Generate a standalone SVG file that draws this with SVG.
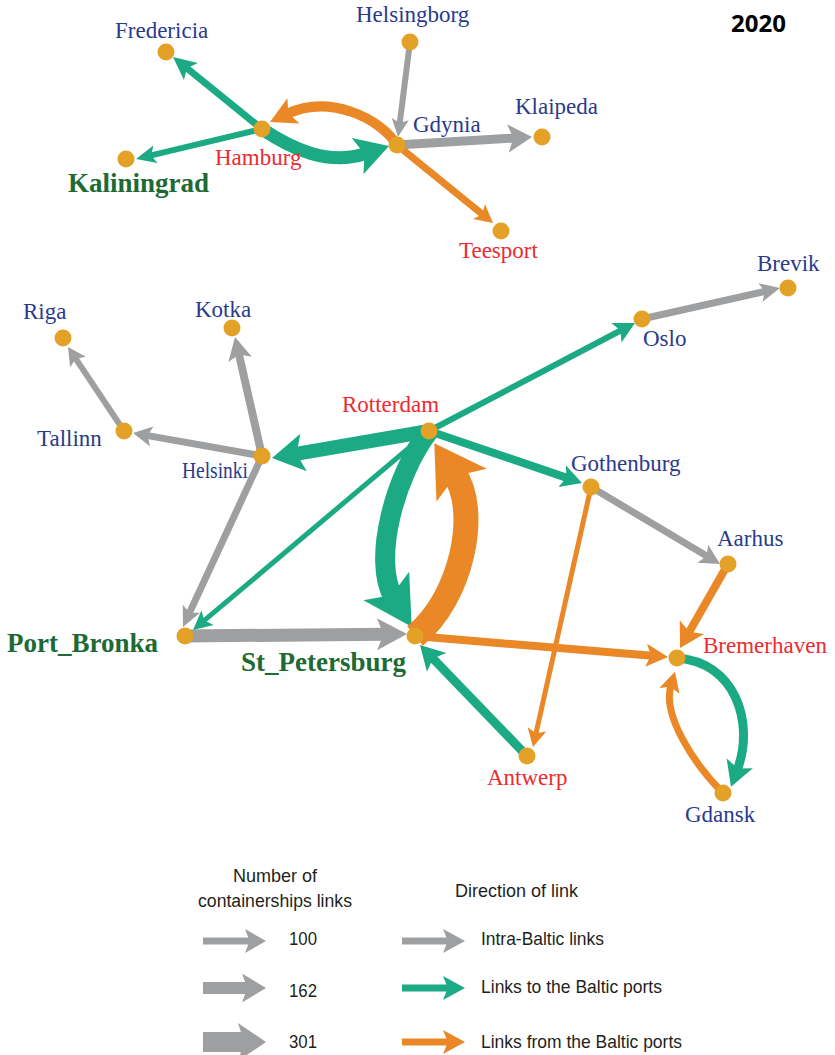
<svg xmlns="http://www.w3.org/2000/svg" xmlns:xlink="http://www.w3.org/1999/xlink" width="835" height="1055" viewBox="0 0 835 1055">
<style>
.s{fill:none;stroke-linecap:butt}
.gy{stroke:#9d9fa1}.gn{stroke:#1baa83}.or{stroke:#ea8726}
.hgy{fill:#9d9fa1}.hgn{fill:#1baa83}.hor{fill:#ea8726}
.node{fill:#e4a127}
.lb{font-family:"Liberation Serif","Times New Roman",serif;font-size:23px}
.blue{fill:#2a3a8c}.red{fill:#ee2a2f}
.big{font-family:"Liberation Serif","Times New Roman",serif;font-size:27px;font-weight:bold;fill:#1d6a34}
.lg{font-family:"Liberation Sans",Arial,sans-serif;font-size:19px;fill:#231f20}
</style>
<defs>
<path id="ah" d="M0,0 L-1,-0.5 L-0.78,0 L-1,0.5 Z"/>
</defs>
<rect width="835" height="1055" fill="#fff"/>
<g id="connectors">
<g id="e-helsingborg-gdynia"><path class="s gy" stroke-width="6" d="M410,42 L399.6,124.1"/><use href="#ah" class="hgy" transform="translate(398,137) rotate(97.2) scale(18,17)"/></g>
<g id="e-gdynia-klaipeda"><path class="s gy" stroke-width="9" d="M397,145 L514.7,138"/><use href="#ah" class="hgy" transform="translate(532,137) rotate(-3.4) scale(24,28)"/></g>
<g id="e-oslo-brevik"><path class="s gy" stroke-width="7" d="M642,319 L765.9,291.2"/><use href="#ah" class="hgy" transform="translate(780,288) rotate(-12.7) scale(20,19)"/></g>
<g id="e-tallinn-riga"><path class="s gy" stroke-width="6" d="M124,431 L75.2,357.8"/><use href="#ah" class="hgy" transform="translate(68,347) rotate(236.3) scale(18,19)"/></g>
<g id="e-helsinki-tallinn"><path class="s gy" stroke-width="7" d="M262,456 L146.5,435.4"/><use href="#ah" class="hgy" transform="translate(133,433) rotate(190.1) scale(19,20)"/></g>
<g id="e-helsinki-kotka"><path class="s gy" stroke-width="8" d="M262,456 L238.7,353.2"/><use href="#ah" class="hgy" transform="translate(235,337) rotate(257.2) scale(23,24)"/></g>
<g id="e-helsinki-portbronka"><path class="s gy" stroke-width="7" d="M262,456 L189,613.9"/><use href="#ah" class="hgy" transform="translate(183,627) rotate(114.8) scale(20,19)"/></g>
<g id="e-portbronka-stpetersburg"><path class="s gy" stroke-width="13" d="M185,636 L385.4,634.2"/><use href="#ah" class="hgy" transform="translate(407,634) rotate(-0.5) scale(30,32)"/></g>
<g id="e-gothenburg-aarhus"><path class="s gy" stroke-width="7" d="M591,487 L707.6,556.6"/><use href="#ah" class="hgy" transform="translate(720,564) rotate(30.8) scale(20,21)"/></g>

<g id="e-hamburg-fredericia"><path class="s gn" stroke-width="7" d="M262,129 L185.9,67.4"/><use href="#ah" class="hgn" transform="translate(173,57) rotate(219) scale(23,22)"/></g>
<g id="e-hamburg-kaliningrad"><path class="s gn" stroke-width="6" d="M262,129 L150,155.7"/><use href="#ah" class="hgn" transform="translate(136,159) rotate(166.6) scale(20,18)"/></g>
<g id="e-hamburg-gdynia"><path class="s gn" stroke-width="13" d="M262,129 C292,149 328,166 366.4,153.3"/><use href="#ah" class="hgn" transform="translate(389,146) rotate(-17.9) scale(33,38)"/></g>
<g id="e-rotterdam-oslo"><path class="s gn" stroke-width="6" d="M429,431 L621.6,330"/><use href="#ah" class="hgn" transform="translate(635,323) rotate(-27.7) scale(21,22)"/></g>
<g id="e-rotterdam-helsinki"><path class="s gn" stroke-width="14" d="M429,431 L294.7,454.1"/><use href="#ah" class="hgn" transform="translate(272,458) rotate(170.2) scale(32,38)"/></g>
<g id="e-rotterdam-portbronka"><path class="s gn" stroke-width="5" d="M429,431 L203.5,621.2"/><use href="#ah" class="hgn" transform="translate(193,630) rotate(139.9) scale(19,19)"/></g>
<g id="e-rotterdam-stpetersburg"><path class="s gn" stroke-width="20" d="M429,431 C395,475 372,560 393.4,597.4"/><use href="#ah" class="hgn" transform="translate(411.7,626.7) rotate(58) scale(48,54)"/></g>
<g id="e-rotterdam-gothenburg"><path class="s gn" stroke-width="8" d="M429,431 L567.7,478.1"/><use href="#ah" class="hgn" transform="translate(582,483) rotate(18.8) scale(21,23)"/></g>
<g id="e-antwerp-stpetersburg"><path class="s gn" stroke-width="9" d="M527,756 L432,657.5"/><use href="#ah" class="hgn" transform="translate(420,645) rotate(226.1) scale(24,27)"/></g>
<g id="e-bremerhaven-gdansk"><path class="s gn" stroke-width="9" d="M677,658 C735,662 755,722 737.3,769.8"/><use href="#ah" class="hgn" transform="translate(731,786.7) rotate(110.4) scale(25,28)"/></g>

<g id="e-gdynia-hamburg"><path class="s or" stroke-width="10" d="M397,145 C380,118 330,94 286.9,113.9"/><use href="#ah" class="hor" transform="translate(270,122) rotate(154.4) scale(26,28)"/></g>
<g id="e-gdynia-teesport"><path class="s or" stroke-width="7" d="M397,145 L482.9,214.8"/><use href="#ah" class="hor" transform="translate(493,223) rotate(39.1) scale(18,19)"/></g>
<g id="e-stpetersburg-rotterdam"><path class="s or" stroke-width="25" d="M415,636 C462,598 480,510 454,473.5"/><use href="#ah" class="hor" transform="translate(434.3,443.3) rotate(236.9) scale(50,60)"/></g>
<g id="e-gothenburg-antwerp"><path class="s or" stroke-width="5" d="M591,487 L535.8,734.3"/><use href="#ah" class="hor" transform="translate(533,747) rotate(102.6) scale(18,19)"/></g>
<g id="e-aarhus-bremerhaven"><path class="s or" stroke-width="8" d="M728,564 L688.6,633"/><use href="#ah" class="hor" transform="translate(680,648) rotate(119.7) scale(24,28)"/></g>
<g id="e-stpetersburg-bremerhaven"><path class="s or" stroke-width="8" d="M415,636 L652.2,655.7"/><use href="#ah" class="hor" transform="translate(668,657) rotate(4.7) scale(22,23)"/></g>
<g id="e-gdansk-bremerhaven"><path class="s or" stroke-width="7" d="M723,793 C695,765 662,716 670.9,685.5"/><use href="#ah" class="hor" transform="translate(675,671.7) rotate(-73.6) scale(20,21)"/></g>
</g>

<g id="n-fredericia"><circle class="node" cx="166" cy="52" r="8.5"/><text class="lb blue" x="115" y="38">Fredericia</text></g>
<g id="n-helsingborg"><circle class="node" cx="410" cy="42" r="8.5"/><text class="lb blue" x="356" y="22">Helsingborg</text></g>
<g id="n-hamburg"><circle class="node" cx="262" cy="129" r="8.5"/><text class="lb red" x="215" y="165">Hamburg</text></g>
<g id="n-kaliningrad"><circle class="node" cx="126" cy="159" r="8.5"/><text class="big" x="68" y="192">Kaliningrad</text></g>
<g id="n-gdynia"><circle class="node" cx="397" cy="145" r="8.5"/><text class="lb blue" x="413" y="132">Gdynia</text></g>
<g id="n-klaipeda"><circle class="node" cx="542" cy="137" r="8.5"/><text class="lb blue" x="515" y="114">Klaipeda</text></g>
<g id="n-teesport"><circle class="node" cx="501" cy="231" r="8.5"/><text class="lb red" x="459" y="258">Teesport</text></g>
<g id="n-brevik"><circle class="node" cx="788" cy="288" r="8.5"/><text class="lb blue" x="757" y="271">Brevik</text></g>
<g id="n-oslo"><circle class="node" cx="642" cy="319" r="8.5"/><text class="lb blue" x="643" y="346">Oslo</text></g>
<g id="n-riga"><circle class="node" cx="63" cy="338" r="8.5"/><text class="lb blue" x="23" y="319">Riga</text></g>
<g id="n-kotka"><circle class="node" cx="232" cy="328" r="8.5"/><text class="lb blue" x="195" y="317">Kotka</text></g>
<g id="n-tallinn"><circle class="node" cx="124" cy="431" r="8.5"/><text class="lb blue" x="37" y="446">Tallinn</text></g>
<g id="n-helsinki"><circle class="node" cx="262" cy="456" r="8.5"/><text class="lb blue" x="182" y="478" textLength="66" lengthAdjust="spacingAndGlyphs">Helsinki</text></g>
<g id="n-rotterdam"><circle class="node" cx="429" cy="431" r="8.5"/><text class="lb red" x="342" y="412">Rotterdam</text></g>
<g id="n-gothenburg"><circle class="node" cx="591" cy="487" r="8.5"/><text class="lb blue" x="571" y="471">Gothenburg</text></g>
<g id="n-aarhus"><circle class="node" cx="728" cy="564" r="8.5"/><text class="lb blue" x="717" y="546">Aarhus</text></g>
<g id="n-portbronka"><circle class="node" cx="185" cy="636" r="8.5"/><text class="big" x="7" y="652">Port_Bronka</text></g>
<g id="n-stpetersburg"><circle class="node" cx="415" cy="636" r="8.5"/><text class="big" x="241" y="671">St_Petersburg</text></g>
<g id="n-bremerhaven"><circle class="node" cx="677" cy="658" r="8.5"/><text class="lb red" x="703" y="653">Bremerhaven</text></g>
<g id="n-antwerp"><circle class="node" cx="527" cy="756" r="8.5"/><text class="lb red" x="487" y="785">Antwerp</text></g>
<g id="n-gdansk"><circle class="node" cx="723" cy="793" r="8.5"/><text class="lb blue" x="685" y="822">Gdansk</text></g>

<text id="year" x="731" y="32" font-family="'Open Sans','Liberation Sans',sans-serif" font-size="24" font-weight="bold" fill="#000">2020</text>

<g id="legend">
<text class="lg" x="233" y="882" textLength="84" lengthAdjust="spacingAndGlyphs">Number of</text>
<text class="lg" x="198" y="907" textLength="154" lengthAdjust="spacingAndGlyphs">containerships links</text>
<text class="lg" x="455" y="897" textLength="123" lengthAdjust="spacingAndGlyphs">Direction of link</text>
<path class="s gy" stroke-width="7" d="M203,941 L251,941"/><use href="#ah" class="hgy" transform="translate(266,941) scale(21,24)"/>
<path class="s gy" stroke-width="12" d="M203,988 L248.7,988"/><use href="#ah" class="hgy" transform="translate(266,988) scale(24,29)"/>
<path class="s gy" stroke-width="20" d="M203,1042 L245.8,1042"/><use href="#ah" class="hgy" transform="translate(266,1042) scale(28,38)"/>
<text class="lg" x="289" y="945" textLength="28" lengthAdjust="spacingAndGlyphs">100</text>
<text class="lg" x="289" y="996.5" textLength="28" lengthAdjust="spacingAndGlyphs">162</text>
<text class="lg" x="289" y="1048" textLength="28" lengthAdjust="spacingAndGlyphs">301</text>
<path class="s gy" stroke-width="7" d="M402,941 L449.2,941"/><use href="#ah" class="hgy" transform="translate(465,941) scale(22,24)"/>
<path class="s gn" stroke-width="7" d="M402,988 L449.2,988"/><use href="#ah" class="hgn" transform="translate(465,988) scale(22,24)"/>
<path class="s or" stroke-width="7" d="M402,1042 L449.2,1042"/><use href="#ah" class="hor" transform="translate(465,1042) scale(22,24)"/>
<text class="lg" x="481" y="945" textLength="123" lengthAdjust="spacingAndGlyphs">Intra-Baltic links</text>
<text class="lg" x="481" y="993" textLength="181" lengthAdjust="spacingAndGlyphs">Links to the Baltic ports</text>
<text class="lg" x="481" y="1048" textLength="201" lengthAdjust="spacingAndGlyphs">Links from the Baltic ports</text>
</g>
</svg>
